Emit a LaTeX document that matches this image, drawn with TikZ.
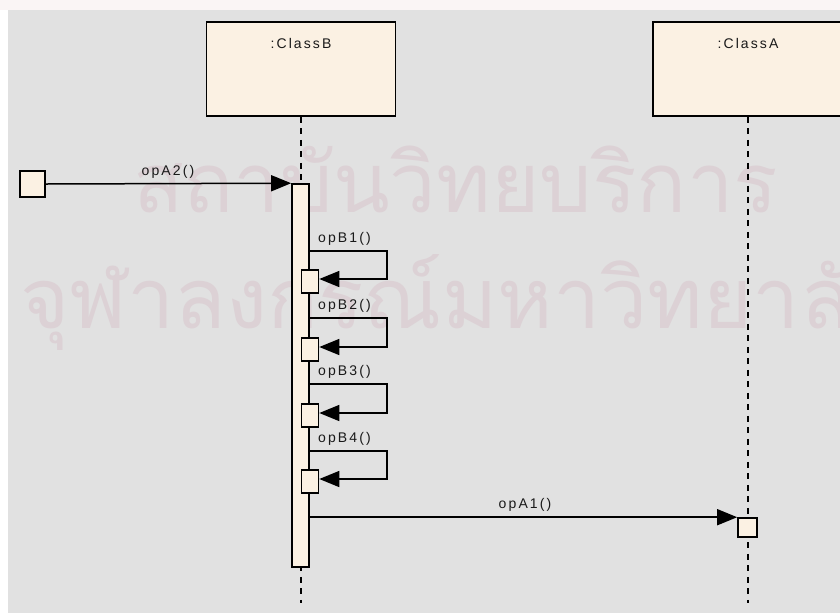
\documentclass[tikz,border=0pt]{standalone}
\usepackage{fontspec}
\setmainfont{Liberation Sans}
\newfontfamily\thaifont[Script=Thai]{Loma}
\newfontfamily\lblfont[LetterSpace=15]{Liberation Sans}
\usetikzlibrary{arrows.meta}
\definecolor{bgray}{RGB}{225,225,225}
\definecolor{objfill}{RGB}{251,241,227}
\definecolor{wmark}{RGB}{220,209,213}
\definecolor{topstrip}{RGB}{250,245,245}
\newlength\wmlenA
\newlength\wmlenB
\begin{document}
\settowidth\wmlenA{\thaifont\fontsize{80}{90}\selectfont สถาบันวิทยบริการ}%
\settowidth\wmlenB{\thaifont\fontsize{80}{90}\selectfont จุฬาลงกรณ์มหาวิทยา}%
\pgfmathsetmacro\wmsA{645/\the\wmlenA}%
\pgfmathsetmacro\wmsB{780/\the\wmlenB}%
\begin{tikzpicture}[x=1pt,y=-1pt,
  objbox/.style={draw=black, fill=objfill, line width=1.6pt, inner sep=0pt, rectangle},
  lbl/.style={font=\lblfont\fontsize{14}{16}\selectfont, text=black!90, inner sep=0pt},
  msg/.style={draw=black, line width=1.5pt, -{Triangle[length=20pt,width=16pt]}},
  lifeline/.style={draw=black, line width=1.5pt, dash pattern=on 6pt off 5.5pt},
  wm/.style={font=\thaifont\fontsize{80}{90}\selectfont, text=wmark, inner sep=0pt}]
\useasboundingbox (0,0) rectangle (840,614);
\fill[white] (0,0) rectangle (840,614);
\fill[topstrip] (0,0) rectangle (840,10);
\fill[bgray] (8,10) rectangle (840,613);
% watermark
\node[wm, anchor=base west, scale=\wmsA] (wm1) at (133,212) {สถาบันวิทยบริการ};
\node[wm, anchor=base west, scale=\wmsB] (wm2) at (20,328) {จุฬาลงกรณ์มหาวิทยาลัย};
% objects
\node[objbox, minimum width=189pt, minimum height=94pt] (B) at (301,69) {};
\node[objbox, minimum width=190pt, minimum height=94pt] (A) at (748,69) {};
\node[lbl] (Blabel) at (301,43) {:ClassB};
\node[lbl] (Alabel) at (748,43) {:ClassA};
\coordinate (Bend) at (301,603);
\coordinate (Aend) at (748,603);
\draw[lifeline] (B.south) -- (Bend);
\draw[lifeline] (A.south) -- (Aend);
% activation on ClassB
\node[objbox, minimum width=17pt, minimum height=383pt] (actB) at (300.5,375.5) {};
% found message
\node[objbox, minimum width=25pt, minimum height=26pt] (found) at (32.5,184) {};
\draw[msg] (found.east) -- (actB.north west);
\node[lbl] (lA2) at (168,172) {opA2()};
% self messages
\foreach \i/\yt/\yb in {1/251/279, 2/318/347, 3/384/413, 4/451/479}{
  \coordinate (yt\i) at (0,\yt);
  \coordinate (yb\i) at (0,\yb);
  \coordinate (rt\i) at (387,\yt);
  \coordinate (rb\i) at (387,\yb);
  \node[objbox, minimum width=17pt, minimum height=23pt] (s\i) at (310,\yb+2.5) {};
  \draw[msg] (actB.east |- yt\i) -- (rt\i) -- (rb\i) -- (s\i.east |- yb\i);
  \node[lbl, anchor=west] (lB\i) at (318,\yt-12) {opB\i()};
}
% message to ClassA
\node[objbox, minimum width=19pt, minimum height=19pt] (actA) at (747.5,527.5) {};
\draw[msg] (actB.east |- actA.north west) -- (actA.north west);
\node[lbl] (lA1) at (525,505) {opA1()};
\end{tikzpicture}
\end{document}
